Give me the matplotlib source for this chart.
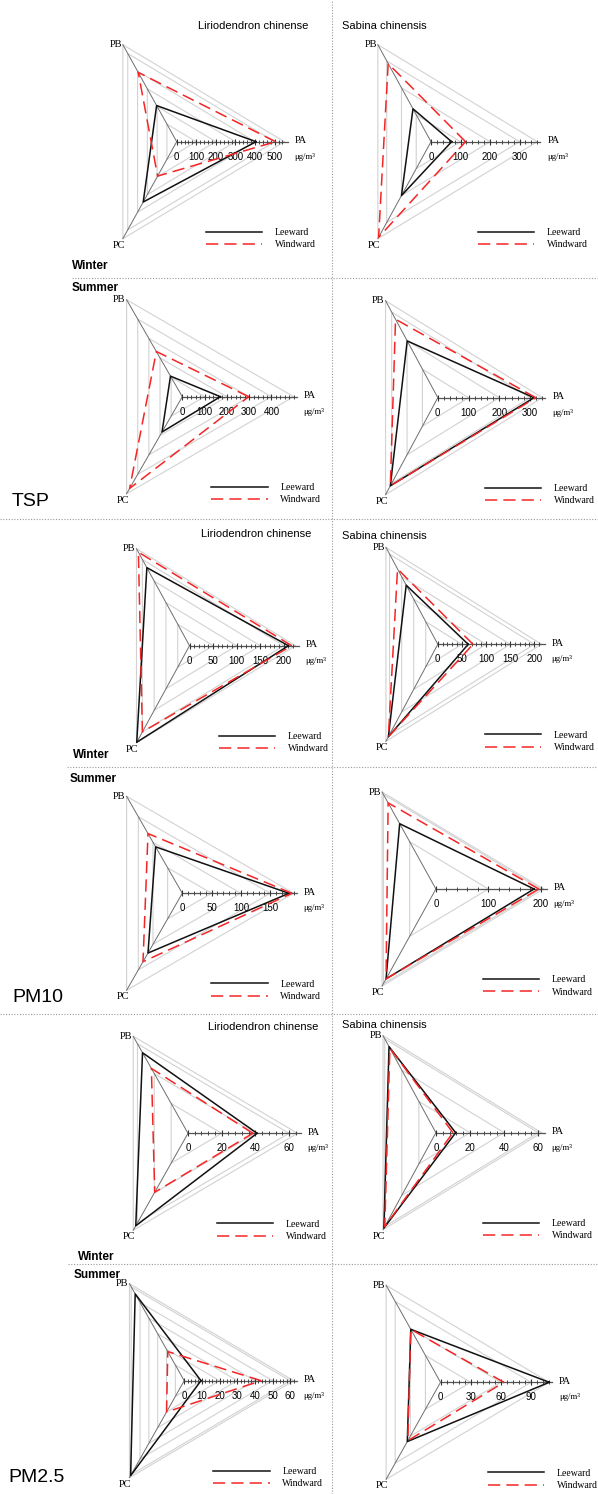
import numpy as np
import matplotlib.pyplot as plt
from matplotlib.lines import Line2D

W, H = 598, 1494
SANS = 'Liberation Sans'
SERIF = 'Liberation Serif'

# radar spokes: PA to the right, PB upper left, PC lower left
spokes = ['PA', 'PB', 'PC']
angles = np.deg2rad([0, 120, 240])

species = ['Liriodendron chinense', 'Sabina chinensis']
pollutants = ['TSP', 'PM10', 'PM2.5']
seasons = ['Winter', 'Summer']

# concentrations (ug/m3), order PA, PB, PC
tsp_win_lc_lee = [405, 205, 342]
tsp_win_lc_wind = [505, 393, 195]
tsp_win_sc_lee = [70, 122, 200]
tsp_win_sc_wind = [117, 290, 355]
tsp_sum_lc_lee = [171, 106, 182]
tsp_sum_lc_wind = [298, 233, 473]
tsp_sum_sc_lee = [313, 199, 309]
tsp_sum_sc_wind = [319, 275, 309]

pm10_win_lc_lee = [210, 181, 224]
pm10_win_lc_wind = [217, 217, 200]
pm10_win_sc_lee = [63, 131, 205]
pm10_win_sc_wind = [73, 167, 205]
pm10_sum_lc_lee = [182, 91, 117]
pm10_sum_lc_wind = [187, 117, 134]
pm10_sum_sc_lee = [187, 138, 190]
pm10_sum_sc_wind = [196, 182, 190]

pm25_win_lc_lee = [41, 54, 62]
pm25_win_lc_wind = [38.5, 43.5, 39.5]
pm25_win_sc_lee = [11.6, 55, 61]
pm25_win_sc_wind = [10, 54, 60]
pm25_sum_lc_lee = [9.5, 55.5, 60.7]
pm25_sum_lc_wind = [43.6, 18.6, 20]
pm25_sum_sc_lee = [108, 59, 66]
pm25_sum_sc_wind = [63, 59, 65]

leeward = [tsp_win_lc_lee, tsp_win_sc_lee, tsp_sum_lc_lee, tsp_sum_sc_lee,
           pm10_win_lc_lee, pm10_win_sc_lee, pm10_sum_lc_lee, pm10_sum_sc_lee,
           pm25_win_lc_lee, pm25_win_sc_lee, pm25_sum_lc_lee, pm25_sum_sc_lee]
windward = [tsp_win_lc_wind, tsp_win_sc_wind, tsp_sum_lc_wind, tsp_sum_sc_wind,
            pm10_win_lc_wind, pm10_win_sc_wind, pm10_sum_lc_wind, pm10_sum_sc_wind,
            pm25_win_lc_wind, pm25_win_sc_wind, pm25_sum_lc_wind, pm25_sum_sc_wind]

# radial axis maximum and labelled ticks of each panel
axis_max = [550, 360, 500, 340, 225, 215, 190, 205, 65, 62, 62, 108]
tick_labels = [
    [0, 100, 200, 300, 400, 500], [0, 100, 200, 300],
    [0, 100, 200, 300, 400], [0, 100, 200, 300],
    [0, 50, 100, 150, 200], [0, 50, 100, 150, 200],
    [0, 50, 100, 150], [0, 100, 200],
    [0, 20, 40, 60], [0, 20, 40, 60],
    [0, 10, 20, 30, 40, 50, 60], [0, 30, 60, 90],
]

# layout: panel centre and PA radius, in pixels
centres = [(176.7, 141.7, 107.7), (431.0, 141.7, 106.3),
           (182.3, 396.7, 111.4), (437.8, 397.7, 104.5),
           (189.5, 645.7, 106.0), (437.8, 644.3, 103.7),
           (182.3, 893.3, 111.4), (435.9, 889.0, 107.6),
           (188.0, 1133.3, 109.5), (435.9, 1132.7, 105.7),
           (184.2, 1380.7, 109.5), (440.5, 1382.3, 108.7)]
RY = 112  # vertical pixels per full radius

fig = plt.figure(figsize=(W / 100, H / 100), dpi=100)
fig.patch.set_facecolor('white')


def fpos(x, y):
    return x / W, 1 - y / H


def ring(vals):
    v = np.append(vals, vals[0])
    a = np.append(angles, angles[0])
    return v * np.cos(a), v * np.sin(a)


def radar(i):
    cx, cy, rx = centres[i]
    vmax = axis_max[i]
    ticks = tick_labels[i]
    lf, rt, up, dn = 0.75, 1.7, 1.1, 1.2
    x0, y0 = fpos(cx - lf * rx, cy + dn * RY)
    ax = fig.add_axes([x0, y0, (lf + rt) * rx / W, (up + dn) * RY / H])
    ax.set_xlim(-lf * vmax, rt * vmax)
    ax.set_ylim(-dn * vmax, up * vmax)
    ax.axis('off')

    step = ticks[1] - ticks[0]
    levels = list(np.arange(step, vmax - 1e-9, step)) + [vmax]
    for lv in levels:
        gx, gy = ring([lv] * 3)
        ax.plot(gx, gy, color='#d2d2d2', lw=0.8, zorder=1)

    # spokes
    for a in angles[1:]:
        ax.plot([0, vmax * np.cos(a)], [0, vmax * np.sin(a)], color='#6e6e6e', lw=0.7, zorder=2)
    ax.plot([0, vmax * 1.03], [0, 0], color='#555555', lw=0.9, zorder=2)
    minor = np.arange(0, vmax + 1e-9, step / 5)
    ax.plot(minor, np.zeros_like(minor), ls='none', marker='|', ms=3.5, mew=0.7,
            color='#444444', zorder=2)
    ax.plot(ticks, np.zeros(len(ticks)), ls='none', marker='|', ms=5, mew=0.8,
            color='#333333', zorder=2)
    for t in ticks:
        ax.annotate(str(t), (t, 0), xytext=(0, -15), textcoords='offset pixels',
                    ha='center', va='center', fontsize=7, family=SANS)

    # spoke names
    ax.annotate(spokes[0], (vmax, 0), xytext=(10, 1), textcoords='offset pixels',
                ha='left', va='center', fontsize=7.5, family=SERIF)
    ax.annotate('μg/m³', (vmax, 0), xytext=(10, -15), textcoords='offset pixels',
                ha='left', va='center', fontsize=6.3, family=SERIF)
    ax.annotate(spokes[1], (vmax * np.cos(angles[1]), vmax * np.sin(angles[1])),
                xytext=(-1, 0), textcoords='offset pixels',
                ha='right', va='center', fontsize=7.5, family=SERIF)
    ax.annotate(spokes[2], (vmax * np.cos(angles[2]), vmax * np.sin(angles[2])),
                xytext=(-4, -2), textcoords='offset pixels',
                ha='center', va='top', fontsize=7.5, family=SERIF)

    lx, ly = ring(leeward[i])
    ax.plot(lx, ly, color='#111111', lw=1.1, zorder=3)
    wx, wy = ring(windward[i])
    ax.plot(wx, wy, color='#f52525', lw=1.1, dashes=(8, 4), zorder=4)

    handles = [Line2D([], [], color='#111111', lw=1.1),
               Line2D([], [], color='#f52525', lw=1.1, dashes=(8, 4))]
    off = 29 if i % 2 == 0 else 47
    ax.legend(handles, ['Leeward', 'Windward'], loc='center left',
              bbox_to_anchor=fpos(cx + off, cy + 97), bbox_transform=fig.transFigure,
              frameon=False, handlelength=5.8, handletextpad=1.3, labelspacing=0.35,
              borderpad=0, borderaxespad=0, prop={'family': SERIF, 'size': 7})


for i in range(12):
    radar(i)

# species titles on the winter rows
for y_l, y_r, x_l in [(26, 26, 198), (534, 536, 201), (1027, 1025, 208)]:
    fig.text(*fpos(x_l, y_l), species[0], ha='left', va='center', fontsize=8, family=SANS)
    fig.text(*fpos(342, y_r), species[1], ha='left', va='center', fontsize=8, family=SANS)

# season labels
season_pos = [((72, 266), (72, 288)), ((73, 755), (70, 779)), ((78, 1257), (74, 1275))]
for (pw, ps) in season_pos:
    fig.text(*fpos(*pw), seasons[0], ha='left', va='center', fontsize=8.5,
             family=SANS, weight='bold')
    fig.text(*fpos(*ps), seasons[1], ha='left', va='center', fontsize=8.5,
             family=SANS, weight='bold')

# pollutant labels
for name, (x, y) in zip(pollutants, [(12, 502), (12, 997), (8, 1477)]):
    fig.text(*fpos(x, y), name, ha='left', va='center', fontsize=14, family=SANS)

# dotted separators
dot = dict(color='#9a9a9a', lw=0.8, ls=(0, (1, 1.5)), transform=fig.transFigure)
for x0, x1, y in [(72, 598, 278), (0, 598, 519), (67, 598, 767),
                  (0, 598, 1014), (68, 598, 1264)]:
    fig.add_artist(Line2D([x0 / W, x1 / W], [1 - y / H, 1 - y / H], **dot))
fig.add_artist(Line2D([332 / W, 332 / W], [0, 1], **dot))

fig.savefig('out.png', dpi=100, facecolor='white')
